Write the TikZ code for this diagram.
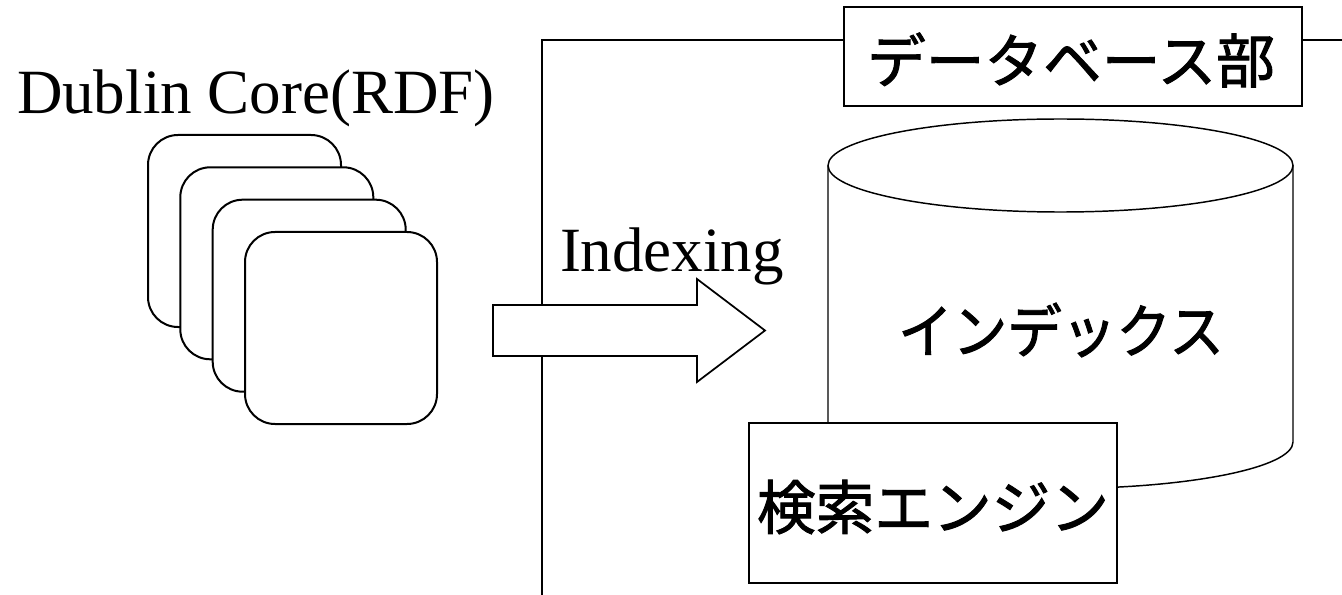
\documentclass[tikz,border=0pt]{standalone}
\usepackage{fontspec}
\setmainfont{Liberation Serif}
\newfontfamily\jpfont[FakeBold=1.6]{Noto Sans CJK JP}
\tikzset{every picture/.style={line width=1.5pt}}

\begin{document}
\begin{tikzpicture}[x=0.75pt,y=0.75pt,yscale=-1,xscale=1]
\useasboundingbox (0,0) rectangle (1342,595);

%Straight Lines [frame]
\draw [line width=1.3pt]  (542,595) -- (542,40) -- (1342,40) ;

%Shape: Rounded Rect [cards]
\draw [fill=white, rounded corners=22.5pt]  (148,135) rectangle (341,327) ;
\draw [fill=white, rounded corners=22.5pt]  (180.3,167.3) rectangle (373.3,359.3) ;
\draw [fill=white, rounded corners=22.5pt]  (212.7,199.7) rectangle (405.7,391.7) ;
\draw [fill=white, rounded corners=22.5pt]  (245,232) rectangle (437,424) ;

%Shape: Right Arrow [indexing arrow]
\draw [fill=white, line width=1.3pt]  (493,305) -- (697,305) -- (697,279) -- (765,330.5) -- (697,382) -- (697,356) -- (493,356) -- cycle ;

%Shape: Can [index]
\draw [fill=white, line width=1.1pt]  (828,165.5) -- (828,442) arc [start angle=180, end angle=0, x radius=232.5, y radius=46.5] -- (1293,165.5) ;
\draw [line width=1.1pt]  (1060.5,165.5) ellipse [x radius=232.5, y radius=46.5] ;

%Shape: Rectangle [engine]
\draw [fill=white]  (749,423) rectangle (1117,583) ;
%Shape: Rectangle [db label]
\draw [fill=white]  (844,7) rectangle (1302,106) ;

% Text Node
\draw (16,114) node (dublin) [anchor=base west][inner sep=0pt]  [font=\fontsize{47.25}{56}\selectfont] {Dublin Core(RDF)};
% Text Node
\draw (559,272) node (indexing) [anchor=base west][inner sep=0pt]  [font=\fontsize{47.25}{56}\selectfont] {Indexing};
% Text Node
\draw (1061,330) node (index) [inner sep=0pt]  [xscale=0.93] [font=\jpfont\fontsize{44}{52}\selectfont] {インデックス};
% Text Node
\draw (1071,60) node (dblabel) [inner sep=0pt]  [font=\jpfont\fontsize{44}{52}\selectfont] {データベース部};
% Text Node
\draw (933,507) node (engine) [inner sep=0pt]  [font=\jpfont\fontsize{44}{52}\selectfont] {検索エンジン};

\end{tikzpicture}
\end{document}
